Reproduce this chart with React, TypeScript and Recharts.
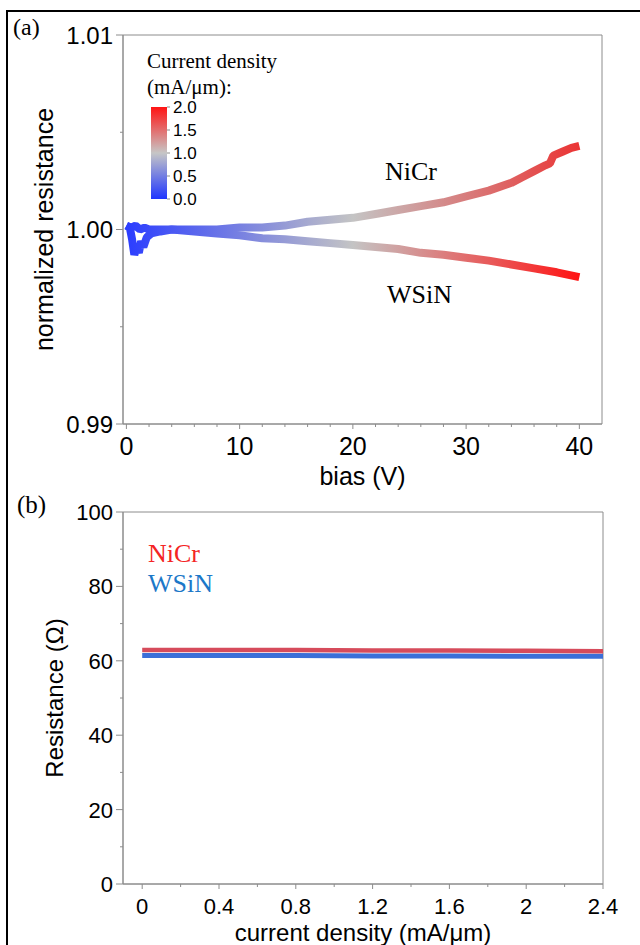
import React from 'react';
import { LineChart, Line, XAxis, YAxis, ReferenceArea, Label } from 'recharts';

// ---------- Panel (a): normalized resistance vs bias ----------
const biasNiCr = [0, 0.4, 0.8, 1.2, 1.6, 2, 3, 4, 6, 8, 10, 12, 14, 16, 18, 20, 22, 24, 26, 28, 30, 32, 34, 35, 36, 37, 37.4, 37.7, 38.5, 39.3, 40];
const normNiCr = [1.0002, 1.0001, 1.0002, 1.0, 1.0001, 1.0, 1.0, 1.0, 1.0, 1.0, 1.0001, 1.0001, 1.0002, 1.0004, 1.0005, 1.0006, 1.0008, 1.001, 1.0012, 1.0014, 1.0017, 1.002, 1.0024, 1.0027, 1.003, 1.0033, 1.0034, 1.0038, 1.004, 1.0042, 1.0043];
const biasWSiN = [0, 0.3, 0.5, 0.7, 0.9, 1.1, 1.3, 1.5, 1.8, 2.2, 3, 4, 6, 8, 10, 12, 14, 16, 18, 20, 22, 24, 26, 28, 30, 32, 34, 36, 38, 40];
const normWSiN = [1.0002, 1.0001, 0.9995, 0.9987, 0.9991, 0.9988, 0.9994, 0.9991, 0.9996, 0.9998, 0.9999, 1.0, 0.9999, 0.9998, 0.9997, 0.99955, 0.9995, 0.9994, 0.9993, 0.9992, 0.9991, 0.999, 0.9988, 0.9987, 0.99855, 0.9984, 0.9982, 0.998, 0.9978, 0.99755];

const biasTicks = [0, 2, 4, 6, 8, 10, 12, 14, 16, 18, 20, 22, 24, 26, 28, 30, 32, 34, 36, 38, 40];
const normTicks = [0.99, 0.995, 1.0, 1.005, 1.01];
const colorbarLabels = ['2.0', '1.5', '1.0', '0.5', '0.0'];

// ---------- Panel (b): resistance vs current density ----------
const densityB = [0, 0.4, 0.8, 1.2, 1.6, 2.0, 2.4];
const resistNiCr = [62.9, 62.9, 62.9, 62.8, 62.8, 62.7, 62.6];
const resistWSiN = [61.4, 61.4, 61.4, 61.3, 61.3, 61.2, 61.2];

const densityTicks = [0, 0.2, 0.4, 0.6, 0.8, 1.0, 1.2, 1.4, 1.6, 1.8, 2.0, 2.2, 2.4];
const resistTicks = [0, 10, 20, 30, 40, 50, 60, 70, 80, 90, 100];

const nicrA = biasNiCr.map((b, i) => ({ bias: b, r: normNiCr[i] }));
const wsinA = biasWSiN.map((b, i) => ({ bias: b, r: normWSiN[i] }));
const nicrB = densityB.map((d, i) => ({ j: d, r: resistNiCr[i] }));
const wsinB = densityB.map((d, i) => ({ j: d, r: resistWSiN[i] }));

const SANS = '"Liberation Sans", Arial, Helvetica, sans-serif';
const SERIF = '"Liberation Serif", "Times New Roman", serif';
const AXIS = '#8c8c8c';

function makeBottomTick(off: number, isMajor: (v: number) => boolean, fmt: (v: number) => string, fontSize: number) {
  return (props: any) => {
    const { x, y, payload } = props;
    const v = payload.value;
    const major = isMajor(v);
    const y0 = y - off;
    return (
      <g>
        <line x1={x} x2={x} y1={y0} y2={y0 + (major ? 5 : 3)} stroke={AXIS} strokeWidth={1} />
        {major && (
          <text x={x} y={y} dy="0.71em" textAnchor="middle" fontSize={fontSize} fontFamily={SANS} fill="#000">
            {fmt(v)}
          </text>
        )}
      </g>
    );
  };
}

function makeLeftTick(isMajor: (v: number) => boolean, fmt: (v: number) => string, fontSize: number) {
  return (props: any) => {
    const { x, y, payload } = props;
    const v = payload.value;
    const major = isMajor(v);
    const x0 = x;
    return (
      <g>
        <line x1={x0} x2={x0 - (major ? 7 : 3)} y1={y} y2={y} stroke={AXIS} strokeWidth={1} />
        {major && (
          <text x={x0 - 10} y={y} dy="0.36em" textAnchor="end" fontSize={fontSize} fontFamily={SANS} fill="#000">
            {fmt(v)}
          </text>
        )}
      </g>
    );
  };
}

const XTickA = makeBottomTick(13, (v) => v % 10 === 0, (v) => String(v), 25);
const YTickA = makeLeftTick((v) => Math.round(v * 1000) % 10 === 0, (v) => v.toFixed(2), 24);
const XTickB = makeBottomTick(14, (v) => Math.round(v * 10) % 4 === 0, (v) => String(Number(v.toFixed(1))), 22);
const YTickB = makeLeftTick((v) => v % 20 === 0, (v) => String(v), 22);

function xLabel(text: string, dy: number, fontSize: number, fallback: any) {
  return (p: any) => {
    const vb = p && p.viewBox && p.viewBox.width ? p.viewBox : fallback;
    return (
      <text x={vb.x + vb.width / 2} y={vb.y + dy} textAnchor="middle" fontSize={fontSize} fontFamily={SANS} fill="#000">
        {text}
      </text>
    );
  };
}

function yLabel(text: string, bx: number, fontSize: number, fallback: any) {
  return (p: any) => {
    const vb = p && p.viewBox && p.viewBox.height ? p.viewBox : fallback;
    const cx = vb.x + bx;
    const cy = vb.y + vb.height / 2;
    return (
      <text x={cx} y={cy} transform={`rotate(-90 ${cx} ${cy})`} textAnchor="middle" fontSize={fontSize} fontFamily={SANS} fill="#000">
        {text}
      </text>
    );
  };
}

export default function App() {
  return (
    <div style={{ position: 'absolute', left: 0, top: 0, width: 640, height: 945, overflow: 'hidden', background: '#fff' }}>
      {/* outer frame */}
      <div style={{ position: 'absolute', left: 6, top: 10, width: 700, height: 1000, borderLeft: '2px solid #000', borderTop: '2px solid #000' }} />

      {/* Panel (a) */}
      <div style={{ position: 'absolute', left: 0, top: 0 }}>
        <LineChart width={640} height={490} margin={{ top: 35, right: 38, bottom: 0, left: 0 }}>
          <defs>
            <linearGradient id="gradNiCr" x1="0" y1="0" x2="1" y2="0">
              <stop offset="0%" stopColor="#2b3dff" />
              <stop offset="50%" stopColor="#c4c4c4" />
              <stop offset="100%" stopColor="#eb3434" />
            </linearGradient>
            <linearGradient id="gradWSiN" x1="0" y1="0" x2="1" y2="0">
              <stop offset="0%" stopColor="#2b3dff" />
              <stop offset="50%" stopColor="#c4c4c4" />
              <stop offset="100%" stopColor="#ff1414" />
            </linearGradient>
          </defs>
          <XAxis
            type="number"
            dataKey="bias"
            domain={[-0.3, 42]}
            ticks={biasTicks}
            interval={0}
            allowDataOverflow
            height={66}
            tickLine={false}
            tickSize={5}
            tickMargin={8}
            tick={XTickA}
            axisLine={{ stroke: AXIS }}
          >
            <Label content={xLabel('bias (V)', 61, 25, { x: 123, y: 424, width: 479, height: 66 })} />
          </XAxis>
          <YAxis
            type="number"
            dataKey="r"
            domain={[0.99, 1.01]}
            ticks={normTicks}
            interval={0}
            allowDataOverflow
            width={123}
            tickLine={false}
            tickSize={0}
            tickMargin={0}
            tick={YTickA}
            axisLine={{ stroke: AXIS }}
          >
            <Label content={yLabel('normalized resistance', 53, 25, { x: 0, y: 35, width: 123, height: 389 })} />
          </YAxis>
          <ReferenceArea x1={-0.3} x2={42} y1={0.99} y2={1.01} fill="none" stroke={AXIS} strokeWidth={1} />
          <Line data={wsinA} dataKey="r" type="linear" stroke="url(#gradWSiN)" strokeWidth={8} strokeLinejoin="bevel" dot={false} isAnimationActive={false} />
          <Line data={nicrA} dataKey="r" type="linear" stroke="url(#gradNiCr)" strokeWidth={8} strokeLinejoin="bevel" dot={false} isAnimationActive={false} />
        </LineChart>
      </div>

      {/* Panel (b) */}
      <div style={{ position: 'absolute', left: 0, top: 480 }}>
        <LineChart width={640} height={465} margin={{ top: 32, right: 37, bottom: 0, left: 0 }}>
          <XAxis
            type="number"
            dataKey="j"
            domain={[-0.1, 2.4]}
            ticks={densityTicks}
            interval={0}
            allowDataOverflow
            height={61}
            tickLine={false}
            tickSize={5}
            tickMargin={9}
            tick={XTickB}
            axisLine={{ stroke: AXIS }}
          >
            <Label content={xLabel('current density (mA/μm)', 57, 24, { x: 123, y: 404, width: 480, height: 61 })} />
          </XAxis>
          <YAxis
            type="number"
            dataKey="r"
            domain={[0, 100]}
            ticks={resistTicks}
            interval={0}
            allowDataOverflow
            width={123}
            tickLine={false}
            tickSize={0}
            tickMargin={0}
            tick={YTickB}
            axisLine={{ stroke: AXIS }}
          >
            <Label content={yLabel('Resistance (Ω)', 63, 24, { x: 0, y: 32, width: 123, height: 372 })} />
          </YAxis>
          <ReferenceArea x1={-0.1} x2={2.4} y1={0} y2={100} fill="none" stroke={AXIS} strokeWidth={1} />
          <Line data={wsinB} dataKey="r" type="linear" stroke="#3b6fd8" strokeWidth={5} dot={false} isAnimationActive={false} />
          <Line data={nicrB} dataKey="r" type="linear" stroke="#d64b5b" strokeWidth={4.5} dot={false} isAnimationActive={false} />
        </LineChart>
      </div>

      {/* Annotations */}
      <svg width={640} height={945} style={{ position: 'absolute', left: 0, top: 0, pointerEvents: 'none' }}>
        <defs>
          <linearGradient id="gradBar" x1="0" y1="0" x2="0" y2="1">
            <stop offset="0%" stopColor="#ff1414" />
            <stop offset="50%" stopColor="#c6c6c6" />
            <stop offset="100%" stopColor="#1f35ff" />
          </linearGradient>
        </defs>
        <text x={13} y={35} fontSize={24} fontFamily={SERIF} fill="#000">(a)</text>
        <text x={17} y={513} fontSize={25} fontFamily={SERIF} fill="#000">(b)</text>

        <text x={147} y={68} fontSize={21} fontFamily={SERIF} fill="#000">Current density</text>
        <text x={147} y={94} fontSize={21} fontFamily={SERIF} fill="#000">(mA/μm):</text>
        <rect x={151} y={107} width={16} height={92} fill="url(#gradBar)" />
        {colorbarLabels.map((t, i) => {
          const yy = 107 + (i * 92) / (colorbarLabels.length - 1);
          return (
            <g key={t}>
              <line x1={167} x2={170} y1={yy} y2={yy} stroke={AXIS} />
              <text x={173} y={yy} dy="0.36em" fontSize={17} fontFamily={SANS} fill="#000">{t}</text>
            </g>
          );
        })}

        <text x={385} y={180} fontSize={26} fontFamily={SERIF} fill="#000">NiCr</text>
        <text x={387} y={303} fontSize={26} fontFamily={SERIF} fill="#000">WSiN</text>

        <text x={148} y={562} fontSize={26} fontFamily={SERIF} fill="#f42424">NiCr</text>
        <text x={148} y={592} fontSize={26} fontFamily={SERIF} fill="#1c78c8">WSiN</text>
      </svg>
    </div>
  );
}
